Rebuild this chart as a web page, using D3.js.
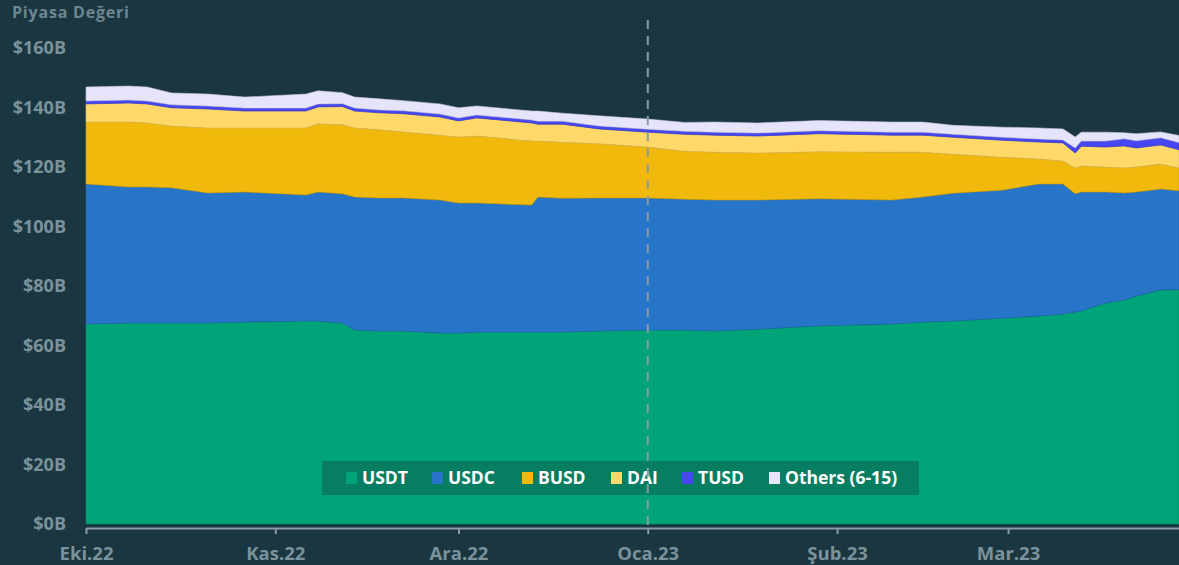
<!DOCTYPE html>
<html>
<head>
<meta charset="utf-8">
<script src="https://cdn.jsdelivr.net/npm/d3@7"></script>
<style>
  html, body { margin: 0; padding: 0; background: #1a3641; }
  svg { display: block; font-family: "Open Sans", "Noto Sans", sans-serif; }
</style>
</head>
<body>
<script>
"use strict";
(function(){
    // values, in billions of dollars
    const dates = ["2022-10-01","2022-10-08","2022-10-11","2022-10-15","2022-10-21","2022-10-27",
        "2022-11-06","2022-11-08","2022-11-12","2022-11-14","2022-11-18","2022-11-22","2022-11-28",
        "2022-12-01","2022-12-04","2022-12-13","2022-12-14","2022-12-18","2022-12-24",
        "2023-01-01","2023-01-07","2023-01-12","2023-01-19","2023-01-29",
        "2023-02-10","2023-02-15","2023-02-20","2023-02-28",
        "2023-03-06","2023-03-10","2023-03-12","2023-03-13","2023-03-17","2023-03-20","2023-03-22","2023-03-26","2023-03-29"]
    const usdt = [67.2,67.6,67.6,67.6,67.6,67.9,68.2,68.2,67.6,65.2,64.9,64.9,64.2,
        64.2,64.5,64.5,64.5,64.5,64.9,65.2,65.2,64.9,65.5,66.6,67.2,67.9,68.2,69.2,
        69.9,70.6,71.3,71.6,74.3,75.3,76.6,78.7,78.7]
    const usdc = [47.1,45.7,45.7,45.4,43.7,43.7,42.4,43.4,43.4,44.7,44.7,44.7,44.7,
        43.7,43.4,42.7,45.4,45.0,44.7,44.4,44.0,44.0,43.4,42.7,41.7,42.0,43.0,43.0,
        44.4,43.7,39.7,40.0,37.3,36.0,35.0,33.9,33.3]
    const busd = [20.8,21.8,21.5,20.8,21.8,21.5,22.5,22.9,23.2,23.2,22.9,22.2,21.8,
        22.2,22.5,21.5,18.8,18.8,18.2,17.1,16.1,16.1,15.8,15.8,16.1,15.1,13.1,11.1,
        8.4,7.7,8.7,8.7,8.4,8.4,8.4,8.4,7.7]
    const dai = [6.1,6.4,6.4,6.1,6.4,5.7,5.7,5.7,6.1,5.7,5.7,6.1,6.1,
        5.4,6.1,6.1,5.7,6.1,5.0,5.0,5.7,5.7,5.7,6.1,5.7,5.7,5.7,5.7,
        5.7,6.1,5.0,6.7,6.7,7.4,6.4,6.4,6.1]
    const tusd = [1.0,1.0,1.0,1.0,1.0,1.0,1.0,1.0,1.0,1.0,1.0,1.0,1.0,
        1.0,1.0,1.0,1.0,1.0,1.0,1.0,1.0,1.0,1.0,1.0,1.0,1.0,1.0,1.0,
        1.0,1.0,1.7,1.7,2.0,2.4,2.4,2.4,2.4]
    const others = [4.7,4.7,4.7,4.0,4.0,3.7,4.7,4.4,3.7,3.7,3.7,3.4,3.4,
        3.4,3.0,3.0,3.4,2.7,3.4,3.4,3.0,3.4,3.4,3.4,3.4,3.4,3.0,3.4,
        3.7,3.7,3.7,3.0,3.0,2.0,2.4,2.0,2.4]

    const keys = ["USDT", "USDC", "BUSD", "DAI", "TUSD", "Others (6-15)"]
    const yTicks = [0, 20, 40, 60, 80, 100, 120, 140, 160]
    const xTicks = ["2022-10-01","2022-11-01","2022-12-01","2023-01-01","2023-02-01","2023-03-01"]
    const xTickLabels = ["Eki.22","Kas.22","Ara.22","Oca.23","Şub.23","Mar.23"]
    const markerDate = "2023-01-01"

    const colors = {
        "USDT": "#00a478",
        "USDC": "#2775c9",
        "BUSD": "#f0b90b",
        "DAI": "#fed96a",
        "TUSD": "#4646f2",
        "Others (6-15)": "#e6e4fb"
    }

    const measurements = {
        width: 1179,
        height: 565,
        left: 86,
        right: 1179,
        top: 48,
        bottom: 524
    }

    const parse = d3.timeParse("%Y-%m-%d")
    const series = [usdt, usdc, busd, dai, tusd, others]
    const table = dates.map((d, i) => {
        let row = { date: parse(d) }
        keys.forEach((k, j) => row[k] = series[j][i])
        return row
    })

    const svg = d3.select("body").append("svg")
        .attr("width", measurements.width)
        .attr("height", measurements.height)

    const scaleX = d3.scaleTime()
        .domain([parse(dates[0]), parse(dates[dates.length - 1])])
        .range([measurements.left, measurements.right])
    const scaleY = d3.scaleLinear()
        .domain([0, 160])
        .range([measurements.bottom, measurements.top])

    const stacked = d3.stack().keys(keys)(table)

    const area = d3.area()
        .x(d => scaleX(d.data.date))
        .y0(d => scaleY(d[0]))
        .y1(d => scaleY(d[1]))

    svg.append("g")
        .selectAll("path")
        .data(stacked)
        .enter()
        .append("path")
        .attr("d", area)
        .attr("fill", d => colors[d.key])
        .attr("stroke", d => d3.color(colors[d.key]).darker(0.4))
        .attr("stroke-width", 0.6)

    // title
    svg.append("text")
        .attr("x", 12)
        .attr("y", 18)
        .attr("fill", "#6d8690")
        .attr("font-size", 16)
        .attr("font-weight", 700)
        .attr("letter-spacing", 0.8)
        .text("Piyasa Değeri")

    // y axis labels only
    const yAxis = d3.axisLeft(scaleY)
        .tickValues(yTicks)
        .tickFormat(d => "$" + d + "B")
        .tickSize(0)
        .tickPadding(20)
    const gy = svg.append("g")
        .attr("transform", `translate(${measurements.left}, 0)`)
        .call(yAxis)
    gy.select(".domain").remove()
    gy.selectAll("text")
        .attr("fill", "#7b929a")
        .attr("font-size", 18)
        .attr("font-weight", 700)
        .attr("font-family", "Open Sans, Noto Sans, sans-serif")

    // x axis
    const xAxis = d3.axisBottom(scaleX)
        .tickValues(xTicks.map(parse))
        .tickFormat((d, i) => xTickLabels[i])
        .tickSize(6)
        .tickSizeOuter(0)
        .tickPadding(13)
    const gx = svg.append("g")
        .attr("transform", `translate(0, ${measurements.bottom + 4})`)
        .call(xAxis)
    gx.select(".domain").attr("stroke", "#8a9ba1").attr("stroke-width", 2)
    gx.selectAll(".tick line").attr("stroke", "#8a9ba1").attr("stroke-width", 2)
    gx.selectAll("text")
        .attr("fill", "#7b929a")
        .attr("font-size", 18.5)
        .attr("font-weight", 700)
        .attr("font-family", "Open Sans, Noto Sans, sans-serif")

    // legend
    const legend = svg.append("g").attr("transform", "translate(322, 461)")
    legend.append("rect")
        .attr("width", 597)
        .attr("height", 34)
        .attr("fill", "#077e62")
    const legendX = [24, 110, 200, 289, 360, 447]
    keys.forEach((k, i) => {
        const item = legend.append("g").attr("transform", `translate(${legendX[i]}, 0)`)
        item.append("rect")
            .attr("x", 0)
            .attr("y", 11)
            .attr("width", 11)
            .attr("height", 12)
            .attr("fill", colors[k])
        item.append("text")
            .attr("x", 16)
            .attr("y", 23)
            .attr("fill", "#ffffff")
            .attr("font-size", 17.5)
            .attr("font-weight", 700)
            .text(k)
    })

    // dashed marker at the start of the year
    svg.append("line")
        .attr("x1", scaleX(parse(markerDate)))
        .attr("x2", scaleX(parse(markerDate)))
        .attr("y1", 20)
        .attr("y2", measurements.bottom + 6)
        .attr("stroke", "#8a9ba1")
        .attr("stroke-width", 2)
        .attr("stroke-dasharray", "9,7")
})()
</script>
</body>
</html>
